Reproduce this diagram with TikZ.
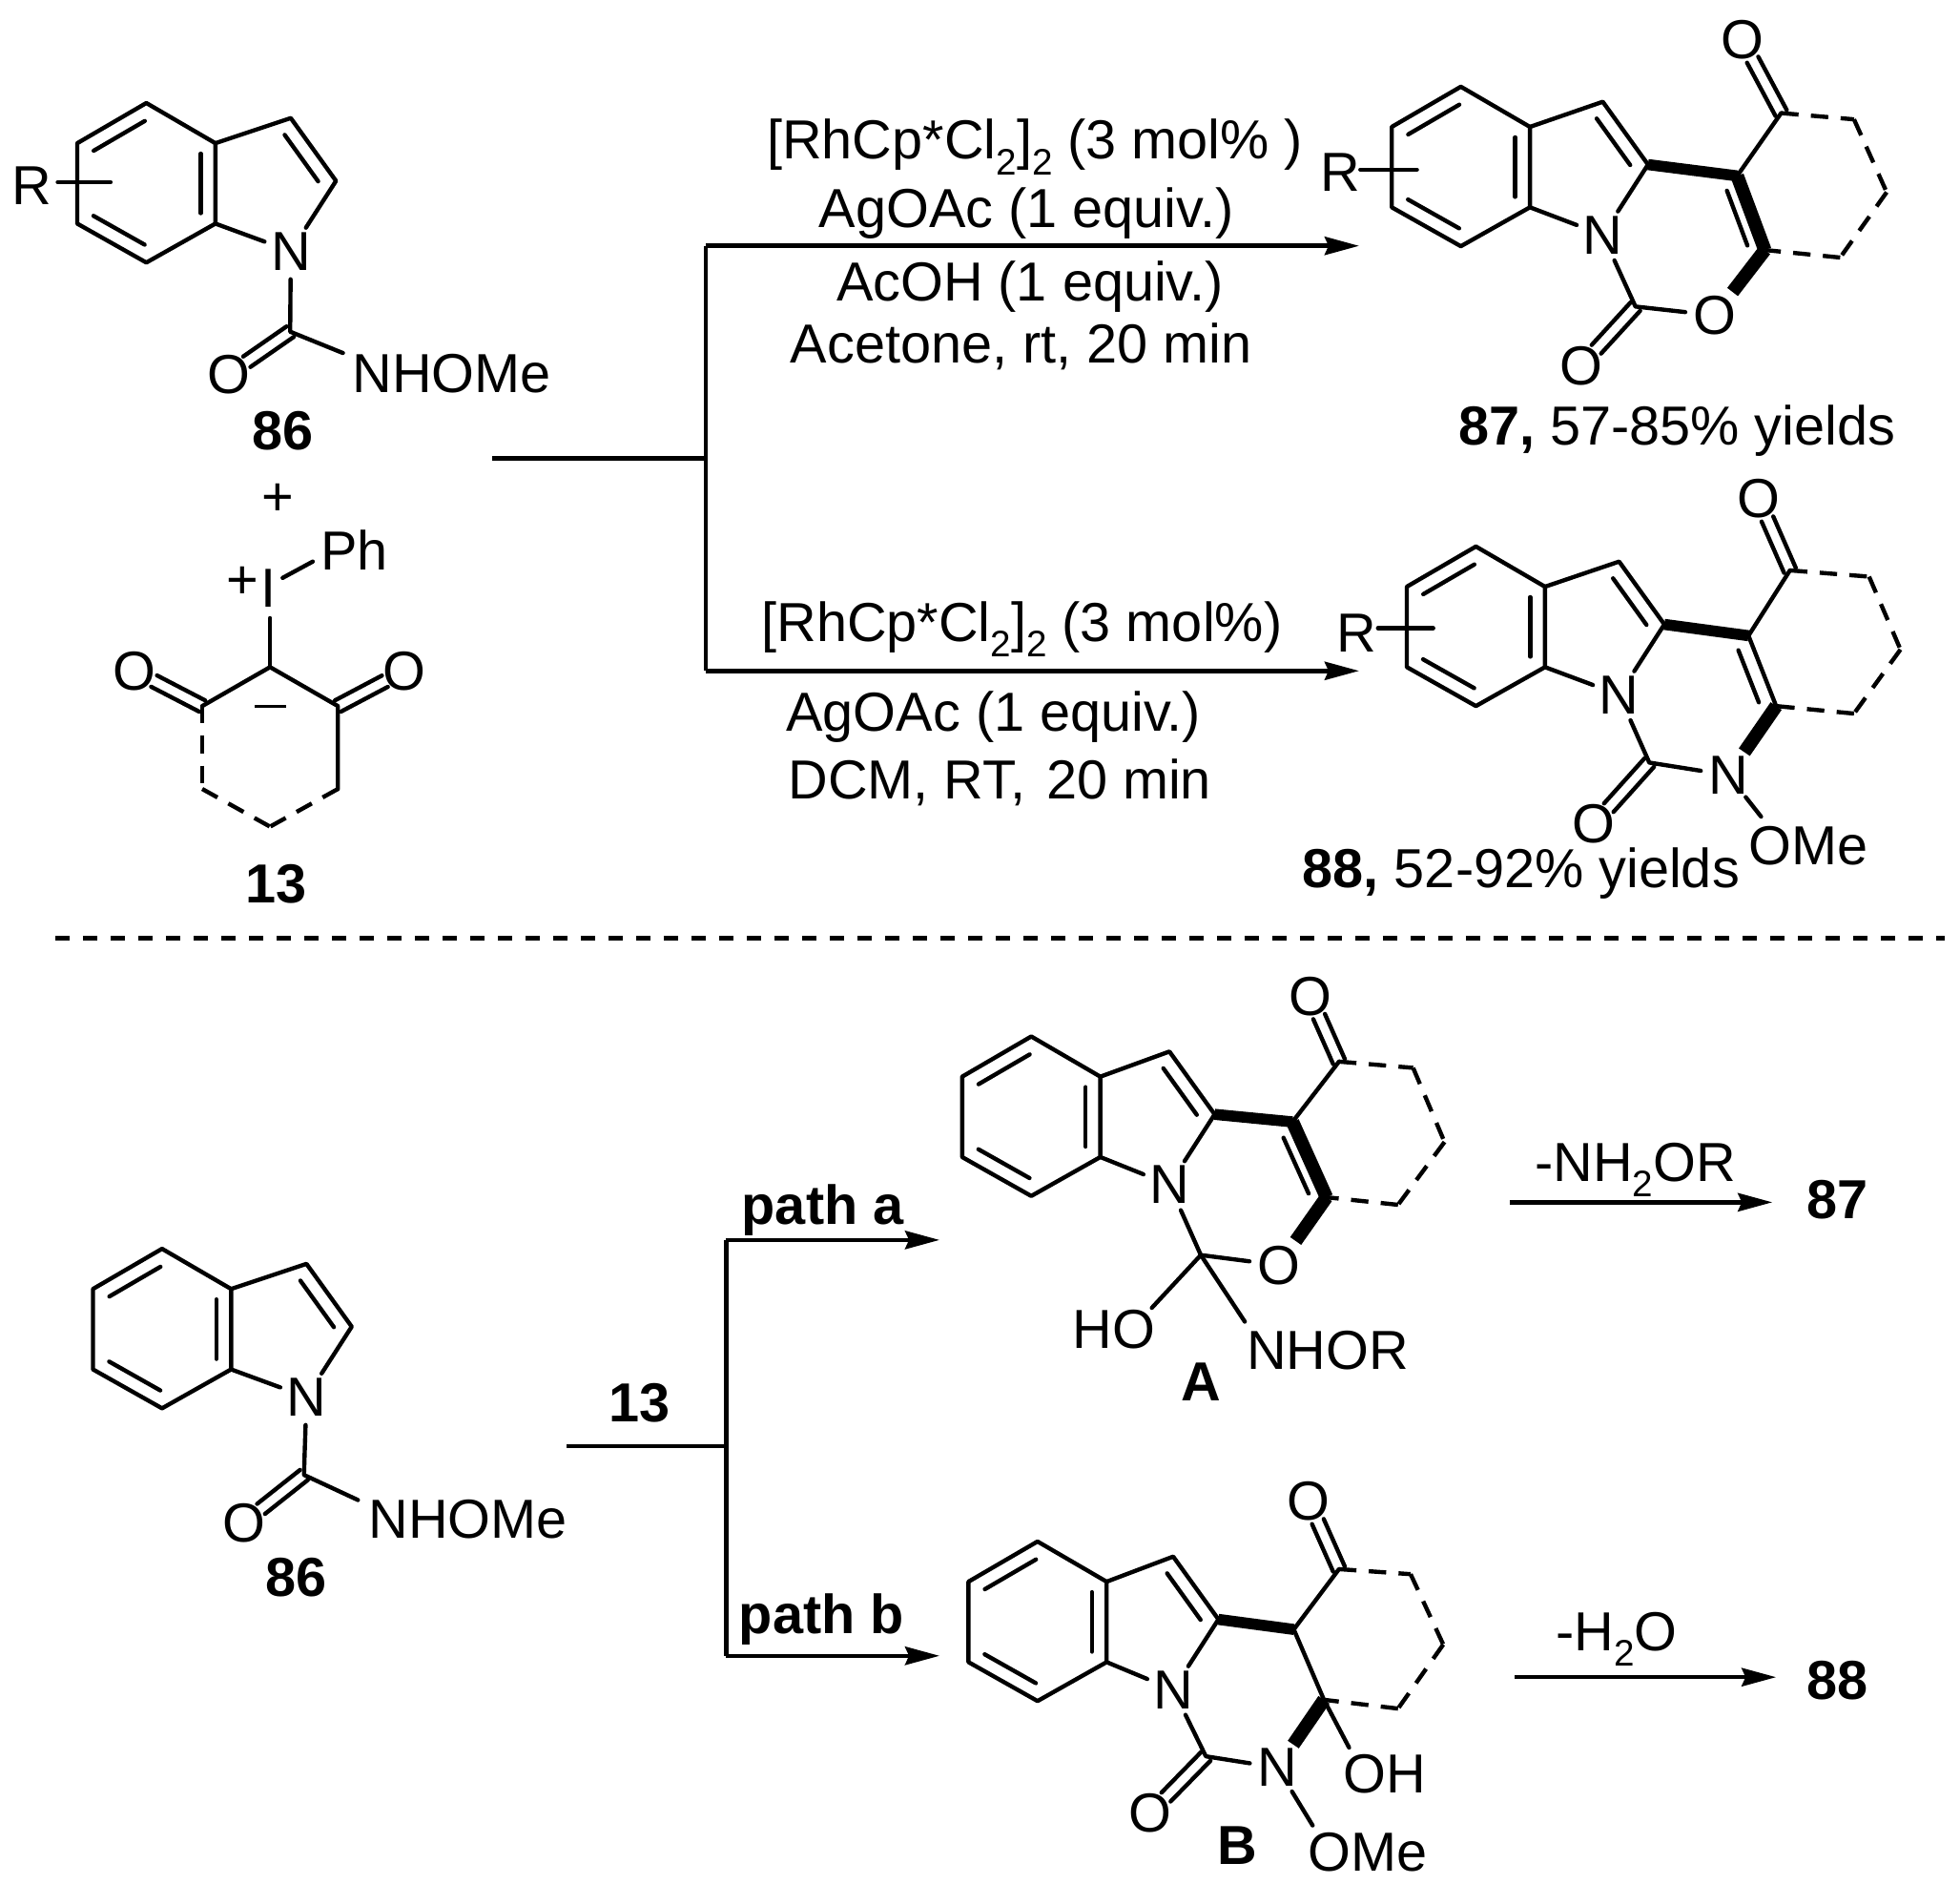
\documentclass[tikz,border=0pt]{standalone}
\usepackage{fontspec}
\setmainfont{Liberation Sans}
\usetikzlibrary{calc,arrows.meta}
\newcommand{\lowsub}[1]{\raisebox{-.28em}{\fontsize{11}{11}\selectfont #1}}
\tikzset{
  bond/.style={line width=1.25pt,line join=round,line cap=round},
  boldb/.style={line width=3.3pt,line cap=butt},
  boldc/.style={line width=4pt,line cap=butt},
  dashb/.style={line width=1.25pt,dash pattern=on 5.2pt off 3.7pt},
  atom/.style={circle,inner sep=0pt,font=\fontsize{16.4}{18}\selectfont},
  txt/.style={inner sep=0pt,font=\fontsize{16.4}{18}\selectfont},
  btxt/.style={inner sep=0pt,font=\fontsize{16.4}{18}\selectfont\bfseries},
  rxn/.style={line width=1.3pt,-{Stealth[length=.36cm,width=.19cm,inset=.04cm]}},
  rline/.style={line width=1.3pt}
}
% inner line of a double bond, on the left of a->b
\newcommand{\inb}[2]{\draw[bond] ($(#1)!.13!(#2)!4.4pt!90:(#2)$) -- ($(#1)!.87!(#2)!4.4pt!90:(#2)$);}
% carbonyl: two lines from carbon a to the oxygen node b
\newcommand{\dblO}[2]{%
  \draw[bond,shorten >=6.6pt] ($(#1)!1.9pt!90:(#2)$) -- ($(#2)!1.9pt!-90:(#1)$);
  \draw[bond,shorten >=6.6pt] ($(#1)!1.9pt!-90:(#2)$) -- ($(#2)!1.9pt!90:(#1)$);}
% benzo-fused pyrrole: prefix, position of N, x offset of the benzene ring
\newcommand{\indolecore}[4]{%
  \node[atom] (#1N) at (#2,#3) {N};
  \coordinate (#1top) at (#2+#4-115,#3-118);
  \coordinate (#1UL) at (#2+#4-170,#3-86);
  \coordinate (#1LL) at (#2+#4-170,#3-22);
  \coordinate (#1bot) at (#2+#4-115,#3+9);
  \coordinate (#1LR) at (#2+#4-60,#3-22);
  \coordinate (#1UR) at (#2+#4-60,#3-86);
  \coordinate (#1Cc) at (#2,#3-106);
  \coordinate (#1Cd) at (#2+36,#3-56);
  \draw[bond] (#1top) -- (#1UL) -- (#1LL) -- (#1bot) -- (#1LR) -- (#1UR) -- cycle;
  \draw[bond] (#1UR) -- (#1Cc) -- (#1Cd) -- (#1N) -- (#1LR);
  \inb{#1top}{#1UL}\inb{#1LL}{#1bot}\inb{#1LR}{#1UR}\inb{#1Cd}{#1Cc}}
\begin{document}
\begin{tikzpicture}[x=0.01317cm,y=-0.01317cm]
\useasboundingbox (0,0) rectangle (1560.4,1499.6);

% ---------- 86 (top)
\indolecore{a}{231.5}{200}{0}
\coordinate (aC) at (231,264);
\node[atom] (aO) at (182,298) {O};
\node[txt,anchor=west] (aNH) at (280,297) {NHOMe};
\coordinate (aNHe) at (273,281);
\draw[bond] (aN) -- (aC) -- (aNHe);
\dblO{aC}{aO}
\node[txt] (aR) at (25,148) {R};
\coordinate (aRa) at (46,145);
\coordinate (aRb) at (88,145);
\draw[bond] (aRa) -- (aRb);
\node[btxt] (l86) at (225,343) {86};
\node[txt] (plus) at (221,398) {+};

% ---------- 13
\node[txt] (iPh) at (282,438) {Ph};
\node[txt] (iI) at (214,468) {I};
\node[txt] (iplus) at (193,464) {+};
\coordinate (iPhe) at (249,447);
\coordinate (iIe) at (225,460);
\draw[bond] (iIe) -- (iPhe);
\coordinate (ic) at (215,531);
\coordinate (ir) at (269,562);
\coordinate (il) at (161,562);
\coordinate (ilr) at (269,628);
\coordinate (ill) at (161,628);
\coordinate (ib) at (215,658);
\coordinate (iIb) at (215,492);
\draw[bond] (iIb) -- (ic);
\draw[bond] (il) -- (ic) -- (ir) -- (ilr);
\draw[dashb] (il) -- (ill);
\draw[dashb] (ill) -- (ib);
\draw[dashb] (ilr) -- (ib);
\node[atom] (iOl) at (107,534) {O};
\node[atom] (iOr) at (322,534) {O};
\dblO{il}{iOl}
\dblO{ir}{iOr}
\coordinate (mina) at (203,562);
\coordinate (minb) at (228,562);
\draw[line width=.8pt] (mina) -- (minb);
\node[btxt] (l13) at (220,704) {13};

% ---------- top reaction lines
\coordinate (t0) at (392,365);
\coordinate (t1) at (562,365);
\coordinate (tu) at (562,195.7);
\coordinate (td) at (562,534);
\coordinate (tue) at (1082,195.7);
\coordinate (tde) at (1082,534);
\draw[rline] (t0) -- (t1);
\draw[rline] (tu) -- (td);
\draw[rxn] (tu) -- (tue);
\draw[rxn] (td) -- (tde);
\node[txt] (c1) at (824,117) {[RhCp*Cl\lowsub{2}]\lowsub{2} (3 mol\% )};
\node[txt] (c2) at (817,170) {AgOAc (1 equiv.)};
\node[txt] (c3) at (820,228) {AcOH (1 equiv.)};
\node[txt] (c4) at (813,276) {Acetone, rt, 20 min};
\node[txt] (d1) at (813.5,501) {[RhCp*Cl\lowsub{2}]\lowsub{2} (3 mol\%)};
\node[txt] (d2) at (791,571) {AgOAc (1 equiv.)};
\node[txt] (d3) at (796,623) {DCM, RT,\ \hspace{.1em}20 min};

% ---------- 87
\begin{scope}[shift={(-5,0)}]
\indolecore{b}{1281}{187}{2}
\coordinate (bC4) at (1388,140);
\coordinate (bCO) at (1423,90);
\coordinate (br1) at (1481,95);
\coordinate (br2) at (1507,153);
\coordinate (br3) at (1470,205);
\coordinate (bC5) at (1410,199);
\node[atom] (bOt) at (1392,32) {O};
\node[atom] (bOr) at (1370,251) {O};
\coordinate (bCc) at (1307,244);
\node[atom] (bOc) at (1264,291) {O};
\draw[boldb] (bCd) -- (bC4);
\draw[boldc] (bC4) -- (bC5);
\draw[boldc] (bC5) -- (bOr);
\inb{bC5}{bC4}
\draw[bond] (bC4) -- (bCO);
\dblO{bCO}{bOt}
\draw[dashb] (bCO) -- (br1);
\draw[dashb] (br1) -- (br2);
\draw[dashb] (br2) -- (br3);
\draw[dashb] (br3) -- (bC5);
\draw[bond] (bN) -- (bCc) -- (bOr);
\dblO{bCc}{bOc}
\node[txt] (bR) at (1072,137) {R};
\coordinate (bRa) at (1088,135);
\coordinate (bRb) at (1133,135);
\draw[bond] (bRa) -- (bRb);
\node[txt] (l87) at (1340,343) {\textbf{87,} 57-85\% yields};
\end{scope}

% ---------- 88
\begin{scope}[shift={(-5,-2)}]
\indolecore{c}{1294}{555}{1}
\coordinate (cC4) at (1397,508);
\coordinate (cCO) at (1430,456);
\coordinate (cr1) at (1493,461);
\coordinate (cr2) at (1518,519);
\coordinate (cr3) at (1481,570);
\coordinate (cC5) at (1419,564);
\node[atom] (cOt) at (1405,399) {O};
\node[atom] (cNt) at (1381,619) {N};
\coordinate (cCc) at (1318,609);
\node[atom] (cOc) at (1274,658) {O};
\node[txt,anchor=west] (cOMe) at (1397,675) {OMe};
\coordinate (cOMee) at (1407,652);
\draw[boldb] (cCd) -- (cC4);
\draw[bond] (cC4) -- (cC5);
\inb{cC5}{cC4}
\draw[boldc] (cC5) -- (cNt);
\draw[bond] (cC4) -- (cCO);
\dblO{cCO}{cOt}
\draw[dashb] (cCO) -- (cr1);
\draw[dashb] (cr1) -- (cr2);
\draw[dashb] (cr2) -- (cr3);
\draw[dashb] (cr3) -- (cC5);
\draw[bond] (cN) -- (cCc) -- (cNt) -- (cOMee);
\dblO{cCc}{cOc}
\node[txt] (cR) at (1085,506) {R};
\coordinate (cRa) at (1102,502);
\coordinate (cRb) at (1146,502);
\draw[bond] (cRa) -- (cRb);
\node[txt] (l88) at (1216,697) {\textbf{88,} 52-92\% yields};
\end{scope}

% ---------- separator
\coordinate (sa) at (44,747);
\coordinate (sb) at (1548,747);
\draw[line width=1.35pt,dash pattern=on 4.27pt off 3.98pt] (sa) -- (sb);

% ---------- 86 (bottom)
\indolecore{e}{244}{1112}{0}
\coordinate (eC) at (242,1174);
\node[atom] (eO) at (194,1212) {O};
\node[txt,anchor=west] (eNH) at (293,1209) {NHOMe};
\coordinate (eNHe) at (285,1194);
\draw[bond] (eN) -- (eC) -- (eNHe);
\dblO{eC}{eO}
\node[btxt] (l86b) at (236,1256) {86};

% ---------- bottom lines
\coordinate (u0) at (451,1151);
\coordinate (u1) at (578,1151);
\coordinate (uu) at (578,987);
\coordinate (ud) at (578,1318);
\coordinate (uue) at (748,987);
\coordinate (ude) at (748,1318);
\draw[rline] (u0) -- (u1);
\draw[rline] (uu) -- (ud);
\draw[rxn] (uu) -- (uue);
\draw[rxn] (ud) -- (ude);
\node[btxt] (l13b) at (509.5,1117) {13};
\node[btxt] (pa) at (655,963) {path a};
\node[btxt] (pb) at (654,1289) {path b};

% ---------- A
\begin{scope}[shift={(-4,-5)}]
\indolecore{f}{935}{948}{5}
\coordinate (fC4) at (1033,898);
\coordinate (fCO) at (1070,850);
\coordinate (fr1) at (1129,855);
\coordinate (fr2) at (1154,914);
\coordinate (fr3) at (1117,964);
\coordinate (fC5) at (1060,958);
\node[atom] (fOt) at (1047,798) {O};
\node[atom] (fOr) at (1022,1012) {O};
\coordinate (fCq) at (960,1004);
\node[txt] (fHO) at (891,1063) {HO};
\node[txt,anchor=west] (fNH) at (996,1080) {NHOR};
\coordinate (fHOe) at (921,1046);
\coordinate (fNHe) at (995,1057);
\draw[boldb] (fCd) -- (fC4);
\draw[boldc] (fC4) -- (fC5);
\draw[boldc] (fC5) -- (fOr);
\inb{fC5}{fC4}
\draw[bond] (fC4) -- (fCO);
\dblO{fCO}{fOt}
\draw[dashb] (fCO) -- (fr1);
\draw[dashb] (fr1) -- (fr2);
\draw[dashb] (fr2) -- (fr3);
\draw[dashb] (fr3) -- (fC5);
\draw[bond] (fN) -- (fCq) -- (fOr);
\draw[bond] (fHOe) -- (fCq) -- (fNHe);
\node[btxt] (lA) at (960,1105) {A};
\end{scope}

% ---------- B
\begin{scope}[shift={(-4,-7)}]
\indolecore{g}{938}{1352}{7}
\coordinate (gC4) at (1034,1304);
\coordinate (gCO) at (1070,1256);
\coordinate (gr1) at (1127,1260);
\coordinate (gr2) at (1153,1316);
\coordinate (gr3) at (1117,1367);
\coordinate (gC5) at (1058,1360);
\node[atom] (gOt) at (1046,1202) {O};
\node[atom] (gNt) at (1021,1414) {N};
\coordinate (gCc) at (964,1405);
\node[atom] (gOc) at (920,1450) {O};
\node[txt,anchor=west] (gOH) at (1073,1419) {OH};
\coordinate (gOHe) at (1078,1398);
\node[txt,anchor=west] (gOMe) at (1045,1481) {OMe};
\coordinate (gOMee) at (1049,1460);
\draw[boldb] (gCd) -- (gC4);
\draw[bond] (gC4) -- (gC5);
\draw[boldc] (gC5) -- (gNt);
\draw[bond] (gC5) -- (gOHe);
\draw[bond] (gC4) -- (gCO);
\dblO{gCO}{gOt}
\draw[dashb] (gCO) -- (gr1);
\draw[dashb] (gr1) -- (gr2);
\draw[dashb] (gr2) -- (gr3);
\draw[dashb] (gr3) -- (gC5);
\draw[bond] (gN) -- (gCc) -- (gNt) -- (gOMee);
\dblO{gCc}{gOc}
\node[btxt] (lB) at (989,1476) {B};
\end{scope}

% ---------- last arrows
\coordinate (va) at (1202,957);
\coordinate (vb) at (1411,957);
\coordinate (wa) at (1206,1335);
\coordinate (wb) at (1414,1335);
\draw[rxn] (va) -- (vb);
\draw[rxn] (wa) -- (wb);
\node[txt] (va1) at (1302,931) {-NH\lowsub{2}OR};
\node[txt] (wa1) at (1287,1305) {-H\lowsub{2}O};
\node[btxt] (r87) at (1463,955) {87};
\node[btxt] (r88) at (1463,1338) {88};
\end{tikzpicture}
\end{document}
